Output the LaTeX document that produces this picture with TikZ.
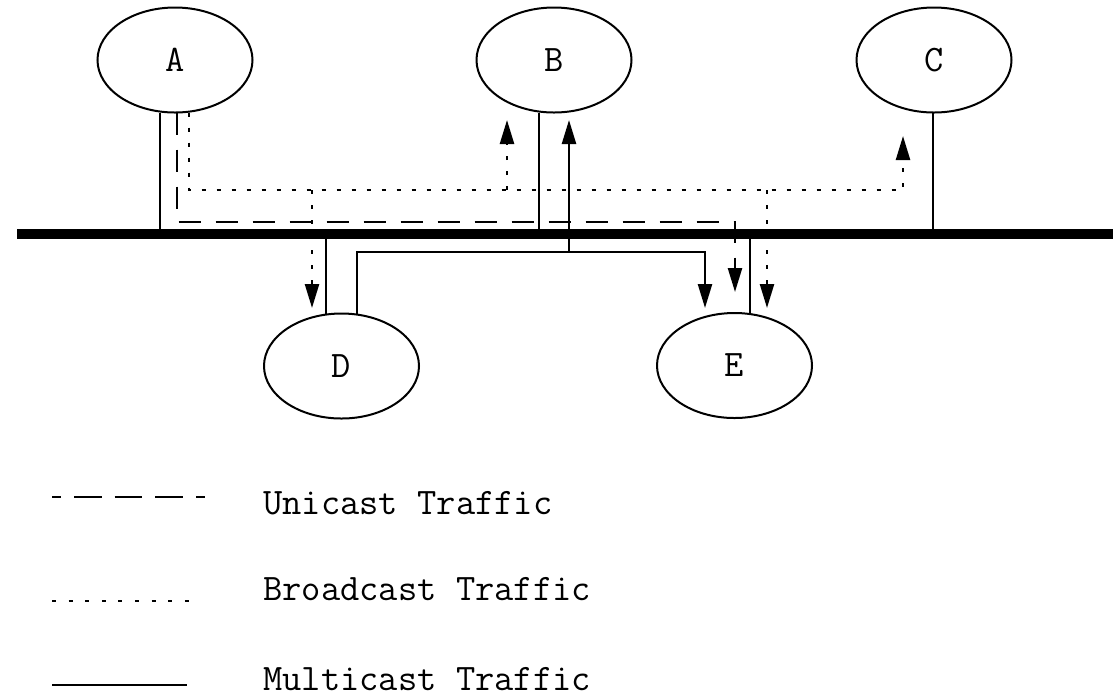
\documentclass[tikz,border=0pt]{standalone}
\usepackage{fontspec}
\usetikzlibrary{arrows.meta,shapes.geometric,calc}

\begin{document}
\begin{tikzpicture}[
  x=0.5pt, y=-0.5pt,
  host/.style={draw, ellipse, line width=1pt, minimum width=77.5pt, minimum height=52.5pt, inner sep=0pt, outer sep=0pt, font=\ttfamily\fontsize{18.7}{22}\selectfont},
  keytext/.style={anchor=base west, inner sep=0pt, font=\ttfamily\fontsize{18.7}{22}\selectfont},
  bus/.style={line width=5pt},
  link/.style={line width=1.2pt},
  unicast/.style={line width=1.2pt, dash pattern=on 11pt off 7.5pt},
  broadcast/.style={line width=1.2pt, dash pattern=on 2pt off 5.5pt},
  multicast/.style={line width=1.2pt},
  headed/.style={-{Triangle[length=12pt, width=7pt]}}
]
\useasboundingbox (0,0) rectangle (1113,698);

% hosts
\node[host] (A) at (175,60) {A};
\node[host] (B) at (554,60) {B};
\node[host] (C) at (934,60) {C};
\node[host] (D) at (341.5,366) {D};
\node[host] (E) at (734.5,365.5) {E};

% shared segment and taps
\coordinate (busL) at (17,234);
\coordinate (busR) at (1113,234);
\draw[bus] (busL) -- (busR);
\coordinate (tapA) at (160,234);
\coordinate (tapB) at (539,234);
\coordinate (tapC) at (933,234);
\coordinate (tapD) at (326,234);
\coordinate (tapE) at (750,234);
\draw[link] (A.south -| tapA) -- (tapA);
\draw[link] (B.south -| tapB) -- (tapB);
\draw[link] (C.south -| tapC) -- (tapC);
\draw[link] (tapD) -- (D.north -| tapD);
\draw[link] (tapE) -- (E.north -| tapE);

% unicast A -> E
\coordinate (uniBend) at (735,222);
\coordinate (uniE) at (735,292);
\draw[unicast, headed] ($(A.south)+(2,0)$) |- (uniBend) -- (uniE);

% broadcast from A
\coordinate (bcRail) at (0,190);
\coordinate (bcB) at (507,120);
\coordinate (bcC) at (903,136);
\coordinate (bcD) at (312,308);
\coordinate (bcE) at (767,308);
\draw[broadcast, headed] ($(A.south)+(14,0)$) |- (bcC |- bcRail) -- (bcC);
\draw[broadcast, headed] (bcB |- bcRail) -- (bcB);
\draw[broadcast, headed] (bcD |- bcRail) -- (bcD);
\draw[broadcast, headed] (bcE |- bcRail) -- (bcE);

% multicast from D
\coordinate (mcRail) at (0,252);
\coordinate (mcB) at (569,120);
\coordinate (mcE) at (705,308);
\draw[multicast, headed] ($(D.north)+(15.5,0)$) |- (mcE |- mcRail) -- (mcE);
\draw[multicast, headed] (mcB |- mcRail) -- (mcB);

% legend
\draw[line width=1.2pt, dash pattern=on 13.85pt off 6.5pt, dash phase=9.35pt] (52,497) -- (205,497);
\node[keytext] (uniKey) at (263,514) {Unicast Traffic};
\draw[broadcast, dash pattern=on 2pt off 6.3pt] (52,601) -- (192,601);
\node[keytext] (bcKey) at (263,600) {Broadcast Traffic};
\draw[multicast] (52,685) -- (187,685);
\node[keytext] (mcKey) at (263,690) {Multicast Traffic};
\end{tikzpicture}
\end{document}
